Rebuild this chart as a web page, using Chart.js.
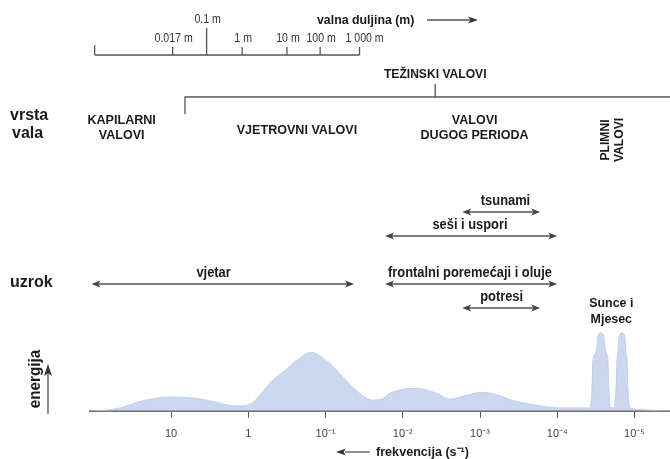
<!DOCTYPE html>
<html><head><meta charset="utf-8">
<script src="https://cdn.jsdelivr.net/npm/chart.js@4.4.1/dist/chart.umd.min.js"></script>
<style>html,body{margin:0;padding:0;background:#fff}canvas{display:block}</style>
</head><body>
<canvas id="c" width="670" height="459"></canvas>
<script>
// x value = -log10(frequency in s^-1), i.e. decades; frequency decreases to the right
const freqTickValues = [-1, 0, 1, 2, 3, 4, 5];
const freqTickLabels = ['10', '1', '10⁻¹', '10⁻²', '10⁻³', '10⁻⁴', '10⁻⁵'];

// energy spectrum (relative units)
const energyX = [-2.05, -1.86, -1.66, -1.38, -1.04, -0.69, -0.43, -0.27, -0.11, 0.05, 0.17, 0.30, 0.47, 0.63, 0.82, 0.95, 1.09, 1.28, 1.44, 1.61, 1.73, 1.83, 2.00, 2.18, 2.44, 2.61, 2.83, 3.02, 3.19, 3.45, 3.71, 4.01, 4.36,
  4.424, 4.449, 4.462, 4.488, 4.514, 4.527, 4.566, 4.604, 4.617, 4.643, 4.656, 4.669, 4.694,
  4.734, 4.760, 4.773, 4.786, 4.799, 4.838, 4.877, 4.890, 4.903, 4.916, 4.942, 5.14, 5.33, 5.46];
const energyY = [0, 0.5, 3, 10, 14, 13, 9, 6, 5, 8, 18, 30, 41, 52, 60, 55, 46, 30, 18, 11, 12, 18, 22, 23, 18, 12, 16, 19, 17, 10, 6, 3, 3,
  3, 22, 52, 58, 66, 77, 80, 77, 66, 58, 52, 22, 3,
  3, 22, 52, 60, 75, 80, 75, 60, 52, 22, 3, 1, 0, 0];

// wavelength scale (top)
const wavelengthLabels = ['0.017 m', '0.1 m', '1 m', '10 m', '100 m', '1 000 m'];
const wavelengthPos = [-0.98, -0.54, -0.08, 0.50, 0.93, 1.44];
const wavelengthScaleStart = -1.99;

// wave types
const waveTypeLabels = [['KAPILARNI', 'VALOVI'], ['VJETROVNI VALOVI'], ['VALOVI', 'DUGOG PERIODA']];
const waveTypePos = [-1.64, 0.63, 2.93];
const tidalLabel = ['PLIMNI', 'VALOVI'];
const tidalPos = 4.72;
const gravityLabel = 'TEŽINSKI VALOVI';
const gravityCenter = 2.42;
const gravityStart = -0.82;

// causes
const causeLabels = ['tsunami', 'seši i uspori', 'vjetar', 'frontalni poremećaji i oluje', 'potresi'];
const causeFrom = [2.77, 1.77, -2.03, 1.77, 2.77];
const causeTo = [3.78, 4.00, 1.37, 4.00, 3.78];
const causeLabelPos = [3.33, 2.87, -0.45, 2.87, 3.28];
const sunMoonLabel = ['Sunce i', 'Mjesec'];
const sunMoonPos = 4.70;

// layout (pixels)
const L = {
  wlBase: 55, wlTopLabel: 20, wlLabel: 39,
  gravLabel: 74, gravLine: 97,
  typeRow: 128,
  causeRows: [212, 236, 284, 284, 308],
  sunMoon: [303, 319]
};
const FONT = '"Liberation Sans", Arial, sans-serif';
const TEXT = '#1a1a1a';
const LINE = '#555';

function txt(ctx, t, x, y, size, bold, sx, align) {
  ctx.save();
  ctx.font = (bold ? 'bold ' : '') + size + 'px ' + FONT;
  ctx.textAlign = align || 'center';
  ctx.translate(x, y); ctx.scale(sx, 1);
  ctx.fillText(t, 0, 0);
  ctx.restore();
}

function arrowHead(ctx, x, y, dir, len, half) {
  ctx.beginPath();
  if (dir === 'left') { ctx.moveTo(x, y); ctx.lineTo(x + len, y - half); ctx.lineTo(x + len * 0.75, y); ctx.lineTo(x + len, y + half); }
  else if (dir === 'right') { ctx.moveTo(x, y); ctx.lineTo(x - len, y - half); ctx.lineTo(x - len * 0.75, y); ctx.lineTo(x - len, y + half); }
  else if (dir === 'up') { ctx.moveTo(x, y); ctx.lineTo(x - half, y + len); ctx.lineTo(x, y + len * 0.75); ctx.lineTo(x + half, y + len); }
  ctx.closePath(); ctx.fill();
}

const overlay = {
  id: 'overlay',
  afterDraw(chart) {
    const ctx = chart.ctx, xs = chart.scales.x;
    const X = v => xs.getPixelForValue(v);
    ctx.save();
    ctx.strokeStyle = LINE; ctx.fillStyle = TEXT; ctx.lineWidth = 1.3;
    ctx.textBaseline = 'middle';

    // wavelength scale
    ctx.beginPath();
    ctx.moveTo(X(wavelengthScaleStart), L.wlBase); ctx.lineTo(X(wavelengthPos[wavelengthPos.length - 1]), L.wlBase);
    ctx.moveTo(X(wavelengthScaleStart), L.wlBase); ctx.lineTo(X(wavelengthScaleStart), L.wlBase - 10);
    wavelengthPos.forEach((p, i) => {
      const tall = wavelengthLabels[i] === '0.1 m';
      ctx.moveTo(X(p), L.wlBase); ctx.lineTo(X(p), L.wlBase - (tall ? 27 : 8));
    });
    ctx.stroke();
    ctx.fillStyle = '#333';
    wavelengthPos.forEach((p, i) => {
      const tall = wavelengthLabels[i] === '0.1 m';
      const last = i === wavelengthPos.length - 1;
      txt(ctx, wavelengthLabels[i], X(p) + (tall ? 1 : (last ? 5 : 1)), tall ? L.wlTopLabel : L.wlLabel, 12, false, 0.88);
    });
    ctx.fillStyle = TEXT;
    txt(ctx, 'valna duljina (m)', 317, 20, 13, true, 0.95, 'left');
    ctx.beginPath(); ctx.moveTo(427, 20); ctx.lineTo(470, 20); ctx.stroke();
    ctx.fillStyle = '#333'; arrowHead(ctx, 478, 20, 'right', 10, 3.5); ctx.fillStyle = TEXT;

    // gravity-wave bracket
    txt(ctx, gravityLabel, X(gravityCenter), L.gravLabel, 13, true, 0.93);
    ctx.beginPath();
    ctx.moveTo(X(gravityStart), L.gravLine + 17); ctx.lineTo(X(gravityStart), L.gravLine); ctx.lineTo(chart.width, L.gravLine);
    ctx.moveTo(X(gravityCenter), L.gravLine); ctx.lineTo(X(gravityCenter), L.gravLine - 13);
    ctx.stroke();

    // row titles
    txt(ctx, 'vrsta', 10, 116, 16, true, 1, 'left');
    txt(ctx, 'vala', 12, 134, 16, true, 1, 'left');
    txt(ctx, 'uzrok', 10, 283, 16, true, 1, 'left');

    // wave types
    waveTypeLabels.forEach((lines, i) => {
      const y0 = (lines.length === 1 ? L.typeRow + 2 : L.typeRow - 7.5);
      lines.forEach((t, j) => txt(ctx, t, X(waveTypePos[i]), y0 + j * 15, 13.5, true, 0.93));
    });
    ctx.save();
    ctx.translate(X(tidalPos), 140); ctx.rotate(-Math.PI / 2);
    txt(ctx, tidalLabel[0], 0, -7, 13, true, 0.93);
    txt(ctx, tidalLabel[1], 0, 7, 13, true, 0.93);
    ctx.restore();

    // causes
    causeLabels.forEach((t, i) => {
      const y = L.causeRows[i], a = X(causeFrom[i]), b = X(causeTo[i]);
      txt(ctx, t, X(causeLabelPos[i]), y - 11, 14, true, 0.92);
      ctx.beginPath(); ctx.moveTo(a + 6, y); ctx.lineTo(b - 6, y); ctx.stroke();
      ctx.fillStyle = '#444';
      arrowHead(ctx, a, y, 'left', 9, 3.5); arrowHead(ctx, b, y, 'right', 9, 3.5);
      ctx.fillStyle = TEXT;
    });
    txt(ctx, sunMoonLabel[0], X(sunMoonPos), L.sunMoon[0], 13.5, true, 0.92);
    txt(ctx, sunMoonLabel[1], X(sunMoonPos), L.sunMoon[1], 13.5, true, 0.92);

    // energy label + arrow
    ctx.save();
    ctx.translate(36, 379); ctx.rotate(-Math.PI / 2);
    txt(ctx, 'energija', 0, 0, 16, true, 0.95);
    ctx.restore();
    ctx.beginPath(); ctx.moveTo(48, 414); ctx.lineTo(48, 373); ctx.stroke();
    ctx.fillStyle = '#333'; arrowHead(ctx, 48, 364, 'up', 12, 4); ctx.fillStyle = TEXT;

    // frequency title
    ctx.beginPath(); ctx.moveTo(345, 452); ctx.lineTo(370, 452); ctx.stroke();
    ctx.fillStyle = '#333'; arrowHead(ctx, 336, 452, 'left', 10, 3.5); ctx.fillStyle = TEXT;
    txt(ctx, 'frekvencija (s⁻¹)', 376, 452, 13, true, 0.97, 'left');
    ctx.restore();
  }
};

new Chart(document.getElementById('c'), {
  type: 'line',
  data: {
    datasets: [{
      data: energyX.map((x, i) => ({ x: x, y: energyY[i] })),
      fill: 'origin',
      backgroundColor: 'rgb(205,215,240)',
      borderColor: 'rgb(195,207,236)',
      borderWidth: 1,
      pointRadius: 0,
      cubicInterpolationMode: 'monotone'
    }]
  },
  options: {
    responsive: false, animation: false, devicePixelRatio: 1,
    layout: { padding: { left: 90, right: 0, top: 325, bottom: 8 } },
    plugins: { legend: { display: false }, tooltip: { enabled: false } },
    scales: {
      x: {
        type: 'linear', min: -2.05, max: 5.46,
        afterBuildTicks: s => { s.ticks = freqTickValues.map(v => ({ value: v })); },
        ticks: {
          callback: v => freqTickLabels[freqTickValues.indexOf(v)],
          color: '#444', font: { size: 11, family: FONT }, padding: 10,
          maxRotation: 0, autoSkip: false
        },
        grid: { drawOnChartArea: false, drawTicks: true, tickLength: 7, color: '#555', lineWidth: 1 },
        border: { display: true, color: '#777', width: 2 }
      },
      y: { display: false, min: 0, max: 88 }
    }
  },
  plugins: [overlay]
});
</script>
</body></html>
